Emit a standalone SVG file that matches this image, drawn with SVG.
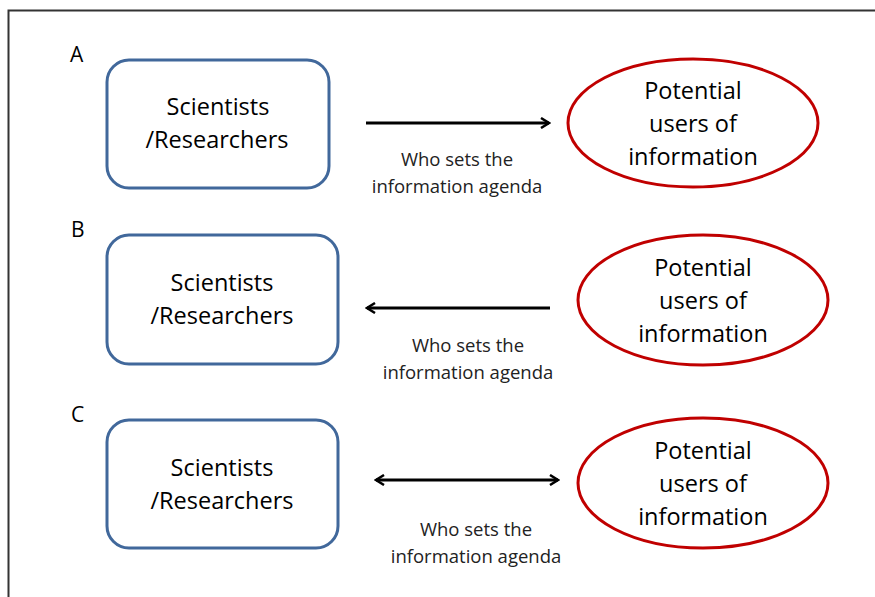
<svg xmlns="http://www.w3.org/2000/svg" width="875" height="597" viewBox="0 0 875 597">
<defs>
<marker id="ah" viewBox="0 0 12 12" refX="10" refY="6" markerWidth="12" markerHeight="12" markerUnits="userSpaceOnUse" orient="auto-start-reverse">
<path d="M2,1 L10,6 L2,11" fill="none" stroke="#000" stroke-width="2.5"/>
</marker>
<style>
.box{fill:#fff;stroke:#41689b;stroke-width:3}
.ell{fill:#fff;stroke:#c00000;stroke-width:3}
.t{font-family:"Open Sans","Liberation Sans",Arial,sans-serif;font-size:23.5px;fill:#000;text-anchor:middle}
.s{font-family:"Open Sans","Liberation Sans",Arial,sans-serif;font-size:18.5px;fill:#222;text-anchor:middle}
.l{font-family:"Open Sans","Liberation Sans",Arial,sans-serif;font-size:21px;fill:#000}
.c{stroke:#000;stroke-width:3;fill:none}
</style>
</defs>
<rect width="875" height="597" fill="#fff"/>
<path d="M8.5,600 V10.5 H880" fill="none" stroke="#333" stroke-width="2"/>

<g id="labels">
<text class="l" x="70" y="62">A</text>
<text class="l" x="71" y="237">B</text>
<text class="l" x="71" y="422">C</text>
</g>

<g id="sciA">
<rect class="box" x="107" y="60" width="222" height="128" rx="22"/>
<text class="t" x="218" y="115">Scientists</text>
<text class="t" x="217" y="148">/Researchers</text>
</g>
<g id="usersA">
<ellipse class="ell" cx="693" cy="123" rx="125" ry="64"/>
<text class="t" x="693" y="99">Potential</text>
<text class="t" x="693" y="132">users of</text>
<text class="t" x="693" y="165">information</text>
</g>

<g id="sciB">
<rect class="box" x="107" y="235" width="231" height="129" rx="22"/>
<text class="t" x="222" y="291">Scientists</text>
<text class="t" x="222" y="324">/Researchers</text>
</g>
<g id="usersB">
<ellipse class="ell" cx="703" cy="300" rx="125" ry="65"/>
<text class="t" x="703" y="276">Potential</text>
<text class="t" x="703" y="309">users of</text>
<text class="t" x="703" y="342">information</text>
</g>

<g id="sciC">
<rect class="box" x="107" y="420" width="231" height="128" rx="22"/>
<text class="t" x="222" y="476">Scientists</text>
<text class="t" x="222" y="509">/Researchers</text>
</g>
<g id="usersC">
<ellipse class="ell" cx="703" cy="483" rx="125" ry="65"/>
<text class="t" x="703" y="459">Potential</text>
<text class="t" x="703" y="492">users of</text>
<text class="t" x="703" y="525">information</text>
</g>

<g id="connectors">
<line class="c" x1="366" y1="123" x2="549" y2="123" marker-end="url(#ah)"/>
<line class="c" x1="550" y1="308" x2="367" y2="308" marker-end="url(#ah)"/>
<line class="c" x1="376" y1="480" x2="558" y2="480" marker-start="url(#ah)" marker-end="url(#ah)"/>
<text class="s" x="457" y="166">Who sets the</text>
<text class="s" x="457" y="193">information agenda</text>
<text class="s" x="468" y="352">Who sets the</text>
<text class="s" x="468" y="379">information agenda</text>
<text class="s" x="476" y="536">Who sets the</text>
<text class="s" x="476" y="563">information agenda</text>
</g>
</svg>
